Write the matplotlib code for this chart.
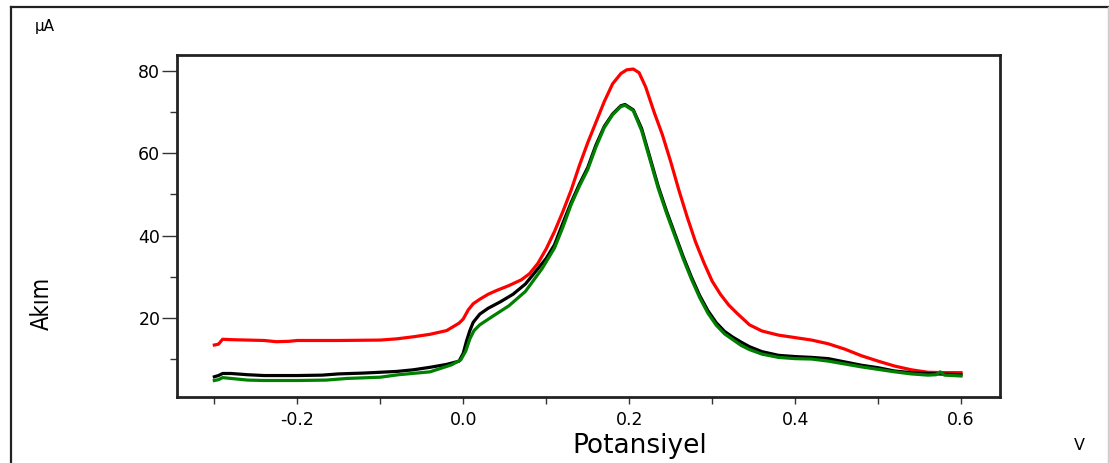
import matplotlib
matplotlib.use("Agg")
import matplotlib.pyplot as plt
from matplotlib.lines import Line2D
from matplotlib.ticker import MultipleLocator

# Potential (V) and current (uA) for the three voltammograms
red_v = [-0.300, -0.295, -0.290, -0.280, -0.260, -0.240, -0.225, -0.210, -0.200, -0.150,
         -0.100, -0.080, -0.060, -0.040, -0.020, -0.005, 0.000, 0.006, 0.012, 0.020,
         0.030, 0.040, 0.055, 0.070, 0.080, 0.090, 0.100, 0.110, 0.120, 0.130,
         0.140, 0.150, 0.160, 0.170, 0.180, 0.190, 0.197, 0.205, 0.212, 0.220,
         0.230, 0.240, 0.250, 0.260, 0.270, 0.280, 0.290, 0.300, 0.310, 0.320,
         0.330, 0.345, 0.360, 0.380, 0.400, 0.420, 0.440, 0.460, 0.480, 0.500,
         0.520, 0.540, 0.560, 0.580, 0.600]
red_i = [13.5, 13.7, 14.9, 14.8, 14.7, 14.6, 14.3, 14.4, 14.6, 14.6,
         14.7, 15.0, 15.5, 16.1, 17.0, 18.8, 19.8, 22.0, 23.5, 24.6,
         25.8, 26.7, 27.9, 29.3, 30.8, 33.3, 36.8, 41.0, 45.8, 51.0,
         57.0, 62.5, 67.5, 72.5, 76.8, 79.3, 80.2, 80.4, 79.5, 76.0,
         70.0, 64.5, 58.0, 51.0, 44.5, 38.5, 33.5, 29.0, 25.8, 23.2,
         21.2, 18.4, 16.9, 15.9, 15.3, 14.7, 13.8, 12.5, 10.9, 9.6,
         8.4, 7.5, 6.9, 6.8, 6.8]

black_v = [-0.300, -0.295, -0.290, -0.280, -0.260, -0.240, -0.200, -0.170, -0.150, -0.120,
           -0.100, -0.080, -0.060, -0.040, -0.020, -0.005, 0.000, 0.004, 0.008, 0.012,
           0.020, 0.030, 0.045, 0.060, 0.075, 0.090, 0.100, 0.110, 0.120, 0.130,
           0.140, 0.150, 0.160, 0.170, 0.180, 0.190, 0.195, 0.205, 0.215, 0.225,
           0.235, 0.245, 0.255, 0.265, 0.275, 0.285, 0.295, 0.305, 0.315, 0.325,
           0.335, 0.345, 0.360, 0.380, 0.400, 0.420, 0.440, 0.460, 0.480, 0.500,
           0.520, 0.540, 0.570, 0.600]
black_i = [5.8, 6.1, 6.6, 6.6, 6.3, 6.1, 6.1, 6.2, 6.5, 6.7,
           6.9, 7.1, 7.5, 8.1, 8.8, 9.6, 11.5, 14.5, 17.0, 19.0,
           21.0, 22.4, 24.0, 25.8, 28.3, 32.0, 34.5, 37.8, 43.0, 48.0,
           52.5, 56.5, 62.0, 66.5, 69.5, 71.5, 71.8, 70.5, 66.0, 59.0,
           52.0, 46.0, 40.5, 35.0, 30.0, 25.5, 21.8, 18.9, 16.8, 15.4,
           14.2, 13.1, 11.9, 11.0, 10.7, 10.5, 10.2, 9.4, 8.6, 8.0,
           7.2, 6.8, 6.5, 6.3]

green_v = [-0.300, -0.295, -0.290, -0.280, -0.260, -0.240, -0.200, -0.165, -0.140, -0.100,
           -0.078, -0.040, -0.014, -0.003, 0.003, 0.008, 0.013, 0.020, 0.035, 0.055,
           0.075, 0.095, 0.110, 0.120, 0.130, 0.140, 0.150, 0.160, 0.170, 0.180,
           0.190, 0.195, 0.205, 0.215, 0.225, 0.235, 0.245, 0.255, 0.265, 0.275,
           0.285, 0.295, 0.305, 0.315, 0.325, 0.335, 0.345, 0.360, 0.380, 0.400,
           0.420, 0.440, 0.460, 0.480, 0.500, 0.520, 0.540, 0.560, 0.570, 0.575,
           0.580, 0.600]
green_i = [4.9, 5.1, 5.6, 5.4, 5.0, 4.9, 4.9, 5.0, 5.4, 5.7,
           6.3, 7.0, 8.7, 9.9, 12.0, 15.0, 17.0, 18.4, 20.4, 23.0,
           26.5, 32.0, 37.0, 42.0, 47.5, 52.0, 56.0, 61.5, 66.2, 69.3,
           71.3, 71.6, 70.3, 65.5, 58.5, 51.5, 45.5, 40.0, 34.5, 29.5,
           25.0, 21.2, 18.3, 16.2, 14.8, 13.4, 12.4, 11.3, 10.5, 10.2,
           10.1, 9.6, 8.9, 8.2, 7.6, 7.0, 6.5, 6.2, 6.3, 7.0,
           6.2, 6.0]

fig = plt.figure(figsize=(11.09, 4.63), dpi=100)
fig.patch.set_facecolor("white")

# outer frame of the instrument window
W, H = 1109, 463
fig.add_artist(Line2D([11 / W, 1108 / W], [1 - 7 / H, 1 - 7 / H],
                      transform=fig.transFigure, color="#222222", lw=1.6))
fig.add_artist(Line2D([11 / W, 11 / W], [0, 1 - 7 / H],
                      transform=fig.transFigure, color="#222222", lw=1.6))
fig.add_artist(Line2D([1108 / W, 1108 / W], [0, 1 - 7 / H],
                      transform=fig.transFigure, color="#cccccc", lw=1.0))

ax = fig.add_axes([177 / W, 1 - 397 / H, (1000 - 177) / W, (397 - 55) / H])

ax.plot(red_v, red_i, color="#ff0000", lw=2.3, solid_joinstyle="round")
ax.plot(black_v, black_i, color="#000000", lw=2.3, solid_joinstyle="round")
ax.plot(green_v, green_i, color="#008000", lw=2.3, solid_joinstyle="round")

ax.set_xlim(-0.345, 0.647)
ax.set_ylim(0.9, 83.8)

ax.xaxis.set_minor_locator(MultipleLocator(0.1))
ax.yaxis.set_minor_locator(MultipleLocator(10))
ax.set_xticks([-0.2, 0.0, 0.2, 0.4, 0.6])
ax.set_xticklabels(["-0.2", "0.0", "0.2", "0.4", "0.6"])
ax.set_yticks([20, 40, 60, 80])
ax.set_yticklabels(["20", "40", "60", "80"])

for s in ax.spines.values():
    s.set_color("#222222")
    s.set_linewidth(2.0)

ax.tick_params(axis="y", which="major", length=11, width=1.0, color="#333333",
               pad=1, labelsize=12.5, direction="out")
ax.tick_params(axis="y", which="minor", length=5, width=1.0, color="#333333",
               direction="out")
ax.tick_params(axis="x", which="both", length=5, width=1.0, color="#333333",
               pad=5, labelsize=12.5, direction="out")

fig.text(35 / W, 1 - 27 / H, "µA", fontsize=11, ha="left", va="center")
fig.text(41.5 / W, 1 - 303 / H, "Akım", rotation=90, ha="center", va="center",
         fontsize=17, fontstretch="condensed", family="DejaVu Sans")
fig.text(640 / W, 1 - 446 / H, "Potansiyel", ha="center", va="center",
         fontsize=19)
fig.text(1079 / W, 1 - 445 / H, "V", ha="center", va="center", fontsize=11.5)

fig.savefig("out.png", dpi=100, facecolor="white")
